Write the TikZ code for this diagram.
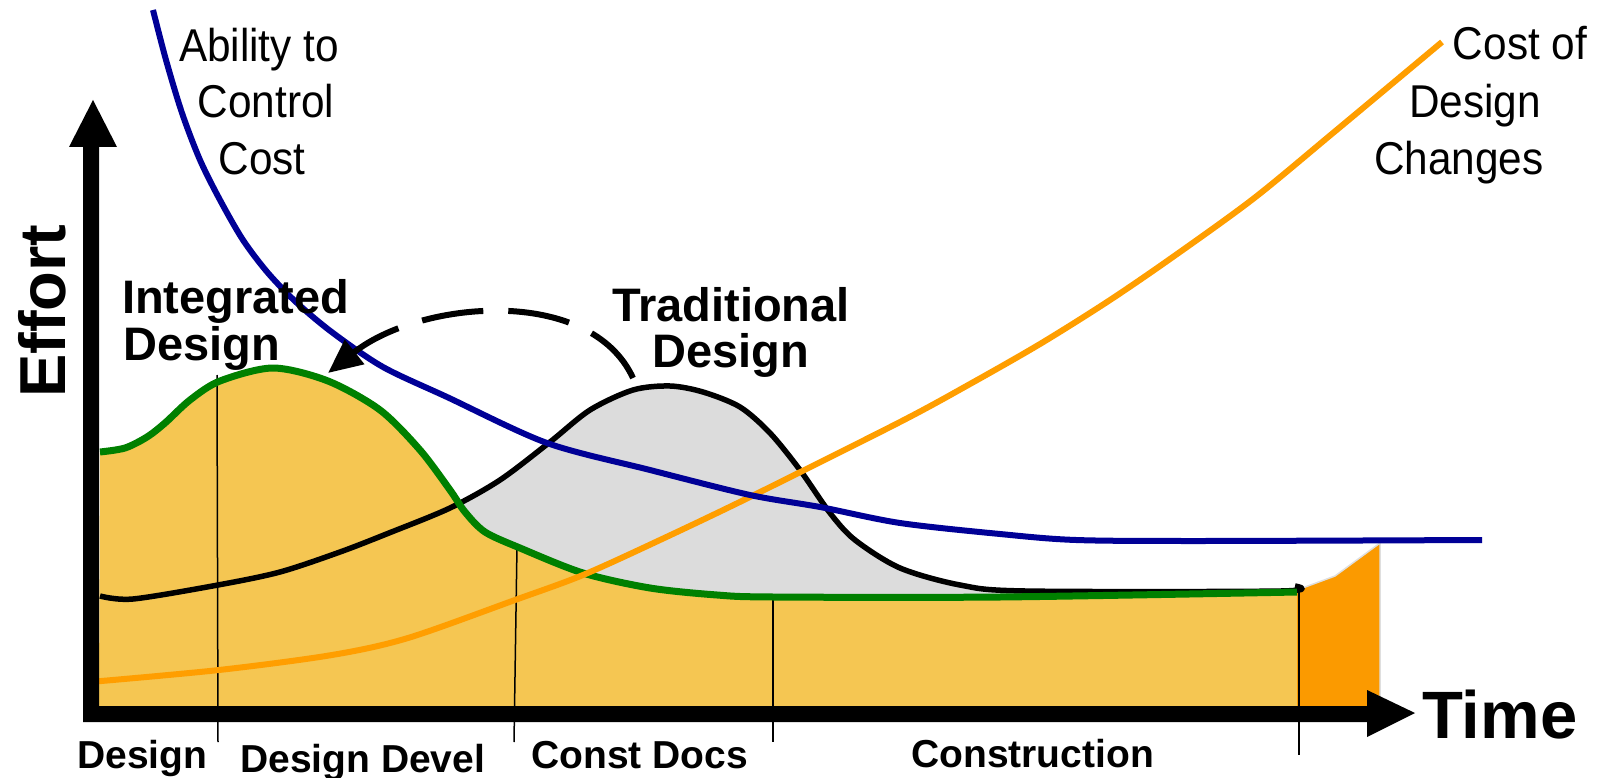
\documentclass[tikz,border=0pt]{standalone}
\usepackage{fontspec}
\setmainfont{Liberation Sans}
\newfontfamily\narrowfont[FakeStretch=0.92]{Liberation Sans}
\usetikzlibrary{arrows.meta}
\definecolor{fillyellow}{HTML}{F5C652}
\definecolor{fillorange}{HTML}{FB9A00}
\definecolor{fillgray}{HTML}{DCDCDC}
\definecolor{curvegreen}{HTML}{008000}
\definecolor{curveblue}{HTML}{000096}
\definecolor{curveorange}{HTML}{FF9E00}
\tikzset{
  reglabel/.style={inner sep=0pt, anchor=base, font=\narrowfont\fontsize{46}{55}\selectfont},
  boldlabel/.style={inner sep=0pt, font=\bfseries\fontsize{47}{56}\selectfont},
  phaselabel/.style={inner sep=0pt, anchor=base west, font=\bfseries\fontsize{39}{46}\selectfont},
  divider/.style={line width=1.5pt, black},
  effortcurve/.style={line width=6pt, line join=round, line cap=butt},
}
\begin{document}
\begin{tikzpicture}[x=1pt,y=-1pt]
\useasboundingbox (0,0) rectangle (1607,778);

% gray fill under traditional curve
\fill[fillgray] plot[smooth] coordinates {(100,596) (133,599) (218,585) (280,572) (340,552) (389,533) (450,508) (500,480) (550,442) (590,410) (633,390) (670,386) (703,392) (740,407) (770,433) (800,470) (830,513) (855,540) (900,568) (960,585) (1025,591) (1281,591) (1295,586)} -- (1295,706) -- (99,706) -- cycle;
% yellow fill under integrated curve
\fill[fillyellow] plot[smooth] coordinates {(100,452) (125,448) (147,437) (165,423) (190,400) (220,381) (273,368) (328,381) (380,410) (420,450) (450,490) (465,512) (485,532) (520,548) (583,573) (650,588) (717,595) (773,597) (1000,597) (1297,592)} -- (1297,706) -- (99,706) -- cycle;
% dark orange area
\fill[fillorange] (1297,590) -- (1335,576) -- (1380,543) -- (1380,706) -- (1297,706) -- cycle;
\draw[gray!25, line width=1.5pt] (1297,590) -- (1335,576) -- (1380,543) -- (1380,706);

% phase dividers
\draw[divider] (217,375) -- (218,742);
\draw[divider] (517,546) -- (514,742);
\draw[divider] (773,596) -- (773,742);
\draw[divider] (1299,592) -- (1299,755);

% traditional design curve
\draw[effortcurve, black, line width=5.5pt] plot[smooth] coordinates {(100,596) (133,599) (218,585) (280,572) (340,552) (389,533) (450,508) (500,480) (550,442) (590,410) (633,390) (670,386) (703,392) (740,407) (770,433) (800,470) (830,513) (855,540) (900,568) (960,585) (1025,591) (1281,591) (1295,586)};
% integrated design curve
\draw[effortcurve, curvegreen, line width=7pt] plot[smooth] coordinates {(100,452) (125,448) (147,437) (165,423) (190,400) (220,381) (273,368) (328,381) (380,410) (420,450) (450,490) (465,512) (485,532) (520,548) (583,573) (650,588) (717,595) (773,597) (1000,597) (1297,592)};
% cost of design changes
\draw[effortcurve, curveorange] plot[smooth] coordinates {(90,682) (219,670) (332,655) (408,638) (515,600) (583,575) (660,540) (750,497) (900,422) (970,384) (1040,344) (1107,302) (1170,259) (1253,199) (1333,133) (1442,42)};
% ability to control cost
\draw[effortcurve, curveblue] plot[smooth] coordinates {(153,10) (166,60) (182,113) (200,160) (220,200) (243,240) (268,273) (297,303) (333,333) (383,367) (447,397) (547,443) (650,470) (750,495) (820,507) (900,523) (1000,534) (1076,540) (1200,541) (1482,540)};

% axes
\fill[black] (83,147) -- (83,722) -- (1367,722) -- (1367,737) -- (1415,713) -- (1367,690) -- (1367,706) -- (99,706) -- (99,147) -- (117,147) -- (93,100) -- (69,147) -- cycle;

% dashed arrow from traditional to integrated
\coordinate (tradpeak) at (633,378);
\coordinate (intpeak) at (328,373);
\draw[line width=6pt, dash pattern=on 62pt off 25pt, -{Triangle[length=34pt,width=30pt]}] (tradpeak) .. controls (590,285) and (420,300) .. (intpeak);

% labels
\node[reglabel] (abil1) at (259,62) {Ability to};
\node[reglabel] (abil2) at (266,118) {Control};
\node[reglabel] (abil3) at (262,175) {Cost};
\node[reglabel] (cost1) at (1520,60) {Cost of};
\node[reglabel] (cost2) at (1475,118) {Design};
\node[reglabel] (cost3) at (1459,175) {Changes};
\node[boldlabel, anchor=base west] (integ1) at (122,313) {Integrated};
\node[boldlabel, anchor=base west] (integ2) at (123,360) {Design};
\node[boldlabel, anchor=base] (trad1) at (731,321) {Traditional};
\node[boldlabel, anchor=base] (trad2) at (731,367) {Design};
\node[rotate=90, anchor=base, inner sep=0pt, font=\bfseries\fontsize{65}{78}\selectfont] (effort) at (65,311) {Effort};
\node[inner sep=0pt, anchor=base west, font=\bfseries\fontsize{67}{80}\selectfont] (time) at (1422,738) {Time};
\node[phaselabel] (ph1) at (77,768) {Design};
\node[phaselabel] (ph2) at (240,772) {Design Devel};
\node[phaselabel] (ph3) at (531,768) {Const Docs};
\node[phaselabel] (ph4) at (911,767) {Construction};
\end{tikzpicture}
\end{document}
